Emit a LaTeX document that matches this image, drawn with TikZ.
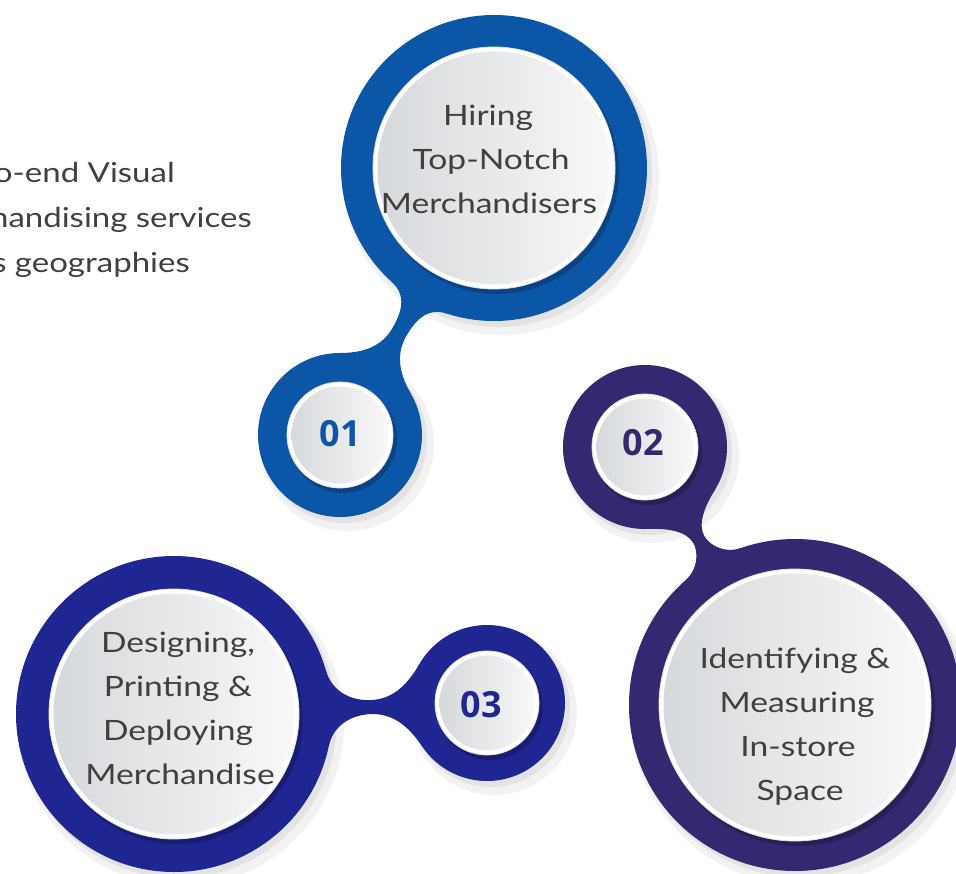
\documentclass[tikz,border=0pt]{standalone}
\usepackage{fontspec}
\setmainfont[FakeStretch=1.2]{Lato}
\newfontfamily\numfont{Open Sans}
\usetikzlibrary{calc}
\pgfdeclarelayer{shadowlayer}
\pgfdeclarelayer{stemlayer}
\pgfsetlayers{shadowlayer,stemlayer,main}
\definecolor{blueA}{RGB}{12,86,168}
\definecolor{indigoB}{RGB}{52,40,112}
\definecolor{royalC}{RGB}{32,38,145}
\definecolor{textgray}{RGB}{64,64,64}
\definecolor{discL}{RGB}{214,217,220}
\definecolor{discR}{RGB}{248,248,248}
\definecolor{rimgray}{RGB}{222,225,228}
\tikzset{
  ring/.style={circle, inner sep=0pt, minimum size=#1},
  rim/.style={circle, inner sep=0pt, fill=white, draw=rimgray, line width=0.8pt, minimum size=#1},
  disc/.style={circle, inner sep=0pt, left color=discL, right color=discR, minimum size=#1},
  labeltext/.style={font=\fontsize{28}{34}\selectfont, text=textgray, anchor=base, inner sep=0pt},
  sidetext/.style={font=\fontsize{27.5}{32}\selectfont, text=textgray, anchor=base east, inner sep=0pt},
  numtext/.style={font=\numfont\bfseries\fontsize{36}{36}\selectfont, inner sep=0pt},
}
% metaball-like stem between two circular nodes
\newcommand\metastem[8]{%
  \pgfpointdiff{\pgfpointanchor{#1}{center}}{\pgfpointanchor{#4}{center}}%
  \pgfgetlastxy{\msdx}{\msdy}%
  \pgfmathsetmacro\msang{atan2(\msdy,\msdx)}%
  \pgfmathsetmacro\msd{veclen(\msdx,\msdy)}%
  \pgfmathsetmacro\msm{(#2+\msd-#5)/2}%
  \pgfmathsetmacro\msax{#2*cos(#3)}\pgfmathsetmacro\msay{#2*sin(#3)}%
  \pgfmathsetmacro\msbx{\msd-#5*cos(#6)}\pgfmathsetmacro\msby{#5*sin(#6)}%
  \pgfmathsetmacro\msLa{0.55*(\msm-\msax)}%
  \pgfmathsetmacro\msLb{0.55*(\msbx-\msm)}%
  \pgfmathsetmacro\mscax{\msax+\msLa*sin(#3)}\pgfmathsetmacro\mscay{\msay-\msLa*cos(#3)}%
  \pgfmathsetmacro\mscbx{\msbx-\msLb*sin(#6)}\pgfmathsetmacro\mscby{\msby-\msLb*cos(#6)}%
  \pgfmathsetmacro\mska{0.4*(\msm-\msax)}\pgfmathsetmacro\mskb{0.4*(\msbx-\msm)}%
  \pgfmathsetmacro\msnay{-1*(\msay)}\pgfmathsetmacro\msnby{-1*(\msby)}%
  \pgfmathsetmacro\msncay{-1*(\mscay)}\pgfmathsetmacro\msncby{-1*(\mscby)}%
  \pgfmathsetmacro\msw{#7}\pgfmathsetmacro\msnw{-1*(#7)}%
  \begin{scope}[shift={(#1.center)},rotate=\msang,x=1pt,y=1pt]
    \fill[#8] (0,0) -- (\msax,\msay) .. controls (\mscax,\mscay) and ({\msm-\mska},\msw) .. (\msm,\msw)
      .. controls ({\msm+\mskb},\msw) and (\mscbx,\mscby) .. (\msbx,\msby) -- (\msd,0)
      -- (\msbx,\msnby) .. controls (\mscbx,\msncby) and ({\msm+\mskb},\msnw) .. (\msm,\msnw)
      .. controls ({\msm-\mska},\msnw) and (\mscax,\msncay) .. (\msax,\msnay) -- cycle;
  \end{scope}}
% one full circle unit: shadow, ring, inner shadow, rim, disc
\newcommand\bubble[5]{% #1 name, #2 position, #3 outer radius, #4 inner radius, #5 colour
  \begin{pgfonlayer}{shadowlayer}
    \fill[black, opacity=0.05] ($#2+(7,9)$) circle[radius=#3pt+5pt];
    \fill[black, opacity=0.06] ($#2+(4,5)$) circle[radius=#3pt+1pt];
  \end{pgfonlayer}
  \node[ring=2*#3pt, fill=#5] (#1) at #2 {};
  \fill[black, opacity=0.22] ($(#1.center)+(3,4)$) circle[radius=#4pt+1pt];
  \node[rim=2*#4pt] (#1rim) at (#1.center) {};
  \node[disc=2*#4pt-9pt] (#1disc) at (#1.center) {};}
\begin{document}
\begin{tikzpicture}[x=1pt,y=-1pt]
  \useasboundingbox (0,0) rectangle (956,873);
  \begin{pgfonlayer}{shadowlayer}
    \fill[white] (0,0) rectangle (956,873);
  \end{pgfonlayer}
  \clip (0,0) rectangle (956,873);

  % side text (cut off at the left edge)
  \node[sidetext] (s1) at (175,182) {o-end Visual};
  \node[sidetext] (s2) at (252,227) {handising services};
  \node[sidetext] (s3) at (190,272) {s geographies};

  % circles
  \bubble{T}{(494,168)}{153}{121}{blueA}
  \bubble{CA}{(340,435)}{82}{53}{blueA}
  \bubble{CB}{(645,447)}{82}{53}{indigoB}
  \bubble{BB}{(795,705)}{166}{136}{indigoB}
  \bubble{CC}{(487,703)}{78}{52}{royalC}
  \bubble{BC}{(174,714)}{158}{125}{royalC}

  % stems (connectors)
  \begin{pgfonlayer}{stemlayer}
    \metastem{CA}{82}{30}{T}{153}{12}{8}{blueA}
    \metastem{CB}{82}{28}{BB}{166}{11}{6.5}{indigoB}
    \metastem{CC}{78}{32}{BC}{158}{14}{7}{royalC}
  \end{pgfonlayer}

  % numbers
  \node[numtext, text=blueA] (n1) at (340,434) {01};
  \node[numtext, text=indigoB] (n2) at (643,443) {02};
  \node[numtext, text=royalC] (n3) at (481,705) {03};

  % texts in the large circles
  \node[labeltext] (t1) at (488,125) {Hiring};
  \node[labeltext] (t2) at (491,169) {Top-Notch};
  \node[labeltext] (t3) at (489,213) {Merchandisers};

  \node[labeltext] (d1) at (178,652) {Designing,};
  \node[labeltext] (d2) at (178,696) {Printing \&};
  \node[labeltext] (d3) at (178,740) {Deploying};
  \node[labeltext] (d4) at (180,784) {Merchandise};

  \node[labeltext] (i1) at (795,668) {Identifying \&};
  \node[labeltext] (i2) at (797,712) {Measuring};
  \node[labeltext] (i3) at (798,756) {In-store};
  \node[labeltext] (i4) at (800,800) {Space};
\end{tikzpicture}
\end{document}
